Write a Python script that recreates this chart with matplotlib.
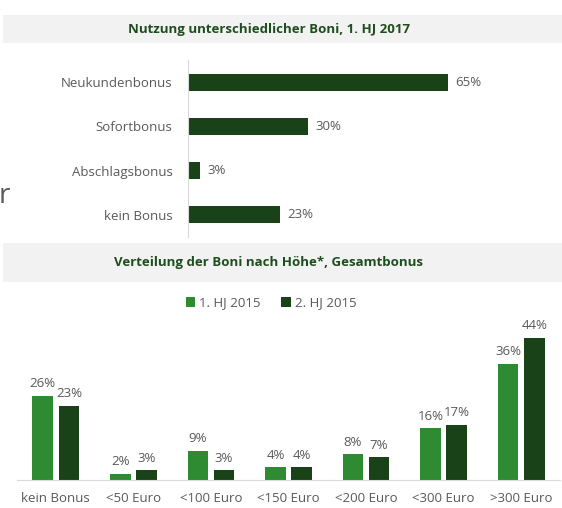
import matplotlib.pyplot as plt
from matplotlib.patches import Rectangle
import numpy as np

plt.rcParams['font.family'] = ['Open Sans', 'DejaVu Sans']

# top chart data
usage_labels = ["Neukundenbonus", "Sofortbonus", "Abschlagsbonus", "kein Bonus"]
usage_values = [65, 30, 3, 23]

# bottom chart data
height_labels = ["kein Bonus", "<50 Euro", "<100 Euro", "<150 Euro", "<200 Euro", "<300 Euro", ">300 Euro"]
hj1_2015 = [26, 2, 9, 4, 8, 16, 36]
hj2_2015 = [23, 3, 3, 4, 7, 17, 44]

DARK = '#1a4218'
LIGHT = '#2e8b32'
TITLE = '#1e4d1e'
GREY = '#595959'
BAND = '#f2f2f2'

W, H = 562, 508
fig = plt.figure(figsize=(W / 100, H / 100), dpi=100)


def box(x0, y0, x1, y1):
    # pixel box (top-left origin) -> figure fraction rect
    return [x0 / W, 1 - y1 / H, (x1 - x0) / W, (y1 - y0) / H]


def band(y0, y1, text):
    r = box(3, y0, W, y1)
    fig.add_artist(Rectangle((r[0], r[1]), r[2], r[3], transform=fig.transFigure,
                             facecolor=BAND, edgecolor='none', zorder=0))
    fig.text(269 / W, 1 - (y0 + y1) / 2 / H, text, ha='center', va='center',
             fontsize=9.5, fontweight='bold', color=TITLE)


band(15, 43, "Nutzung unterschiedlicher Boni, 1. HJ 2017")
band(243, 282, "Verteilung der Boni nach Höhe*, Gesamtbonus")

# stray clipped letter at the left edge
fig.text(-1 / W, 1 - 196 / H, "r", ha='left', va='center', fontsize=20, color=GREY)

# --- top: horizontal bars
ax1 = fig.add_axes(box(188, 60, 468, 237))
y = np.arange(len(usage_labels))
bars = ax1.barh(y, usage_values, height=0.37, color=DARK)
ax1.set_xlim(0, 70)
ax1.set_ylim(3.51, -0.51)
ax1.set_yticks(y, usage_labels)
ax1.tick_params(axis='y', length=0, pad=11, labelsize=9.5, labelcolor=GREY)
ax1.set_xticks([])
for s in ['top', 'right', 'bottom']:
    ax1.spines[s].set_visible(False)
ax1.spines['left'].set_color('#d9d9d9')
ax1.patch.set_alpha(0)
ax1.bar_label(bars, labels=[f"{v}%" for v in usage_values], padding=5,
              fontsize=9.5, color=GREY, clip_on=False)

# --- bottom: grouped bars
ax2 = fig.add_axes(box(17, 480 - 48 * 3.235, 560, 480))
x = np.arange(len(height_labels))
w = 0.265
off = 0.168
b1 = ax2.bar(x - off, hj1_2015, w, color=LIGHT, label='1. HJ 2015')
b2 = ax2.bar(x + off, hj2_2015, w, color=DARK, label='2. HJ 2015')
ax2.set_xlim(-0.5, 6.5)
ax2.set_ylim(0, 48)
ax2.set_xticks(x, height_labels)
ax2.tick_params(axis='x', length=0, pad=9, labelsize=9.5, labelcolor=GREY)
ax2.set_yticks([])
for s in ['top', 'right', 'left']:
    ax2.spines[s].set_visible(False)
ax2.spines['bottom'].set_color('#d9d9d9')
ax2.patch.set_alpha(0)
ax2.bar_label(b1, labels=[f"{v}%" for v in hj1_2015], padding=4, fontsize=9.5, color=GREY)
ax2.bar_label(b2, labels=[f"{v}%" for v in hj2_2015], padding=4, fontsize=9.5, color=GREY)

fig.legend(handles=[b1, b2], loc='center', bbox_to_anchor=(271 / W, 1 - 303 / H),
           ncol=2, frameon=False, fontsize=9.5, labelcolor=GREY,
           handlelength=0.7, handleheight=0.7, handletextpad=0.3, columnspacing=1.6)

fig.savefig('out.png', dpi=100)
